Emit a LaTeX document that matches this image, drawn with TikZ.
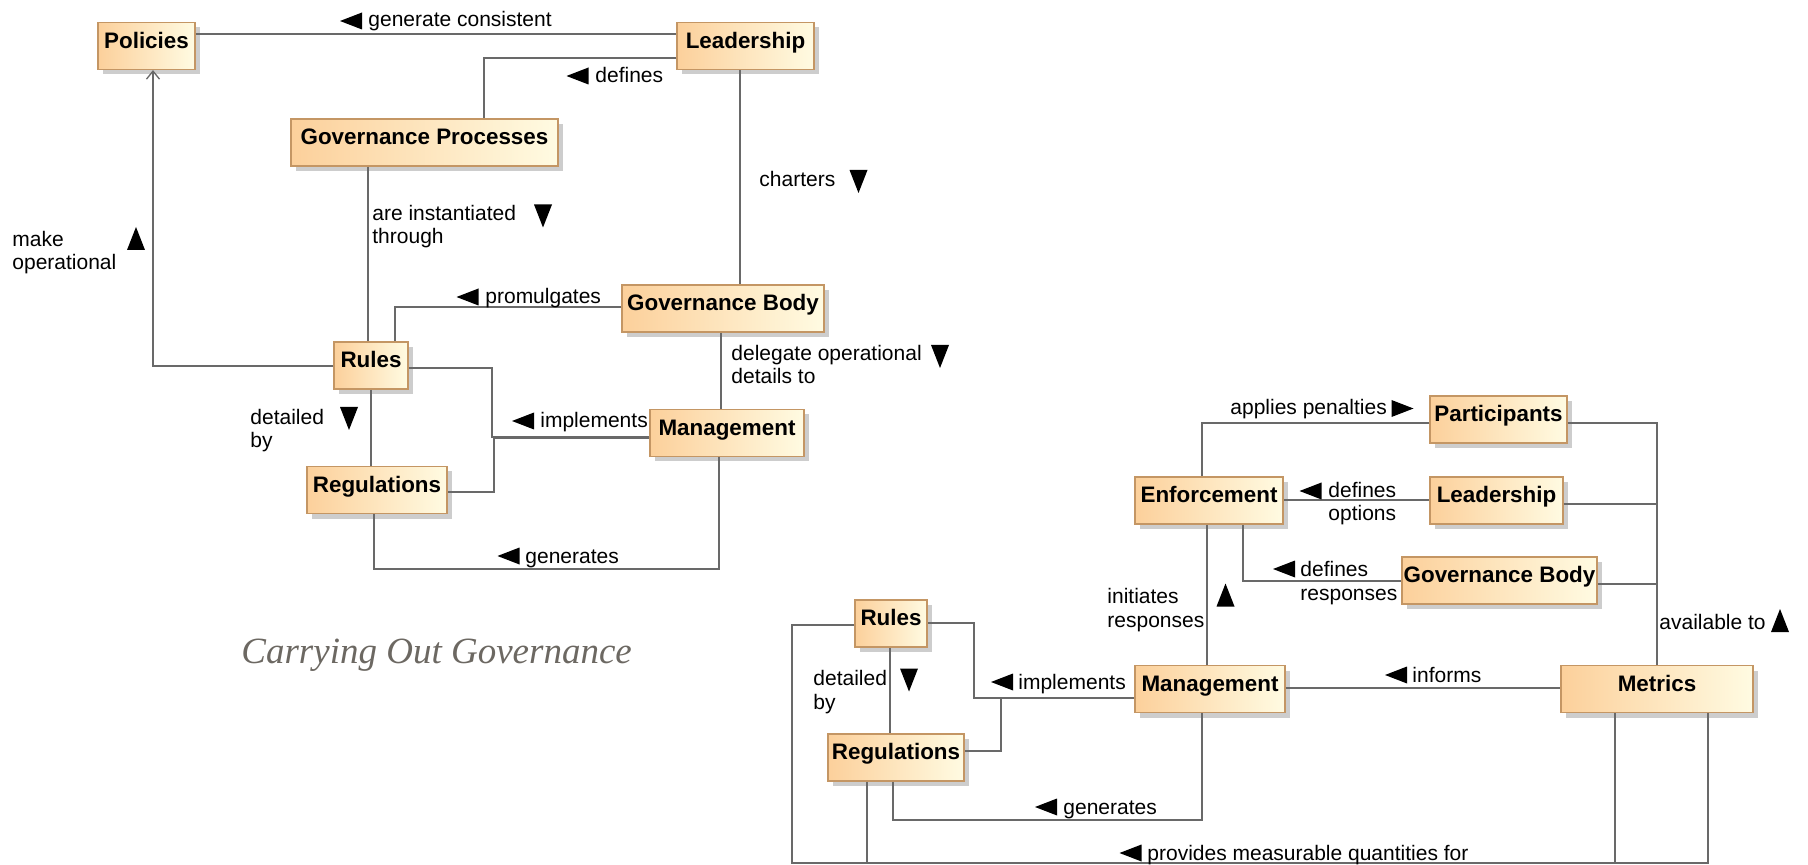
\documentclass[tikz,border=0pt]{standalone}
\usepackage{fontspec}
\setmainfont{Liberation Sans}
\newfontfamily\captionfont{Liberation Serif}
\usetikzlibrary{shadows,arrows.meta}

\definecolor{boxL}{RGB}{252,208,155}
\definecolor{boxR}{RGB}{255,251,226}
\definecolor{boxEdge}{RGB}{196,150,100}
\definecolor{wireGray}{RGB}{105,105,105}
\definecolor{captionGray}{RGB}{108,104,98}
\definecolor{shadowGray}{RGB}{205,205,205}

\tikzset{
  triL/.pic={\fill (-11,0) -- (11,-8.5) -- (11,8.5) -- cycle;},
  triR/.pic={\fill (11,0) -- (-11,-8.5) -- (-11,8.5) -- cycle;},
  triD/.pic={\fill (0,11.5) -- (-9,-11.5) -- (9,-11.5) -- cycle;},
  triU/.pic={\fill (0,-11.5) -- (-9,11.5) -- (9,11.5) -- cycle;},
}

\begin{document}
\begin{tikzpicture}[x=0.5pt,y=-0.5pt,
  cls/.style={draw=boxEdge, line width=0.6pt, left color=boxL, right color=boxR,
    inner xsep=0pt, inner ysep=0pt, text height=12.8pt, text depth=10.7pt,
    font=\fontsize{11.2}{13}\selectfont\bfseries,
    drop shadow={shadow xshift=2.5pt, shadow yshift=-2.5pt, fill=shadowGray, opacity=1}},
  conn/.style={draw=wireGray, line width=0.65pt},
  lbl/.style={inner sep=0pt, anchor=base west, align=left, font=\fontsize{10.5}{11.8}\selectfont},
]
\useasboundingbox (0,0) rectangle (1808,865);

% ---------- governance structure (left) ----------
\node[cls, minimum width=48.5pt]  (pol)    at (146.5,46)  {Policies};
\node[cls, minimum width=68.5pt]  (lead1)  at (745.5,46)  {Leadership};
\node[cls, minimum width=133.5pt] (gp)     at (424.5,142.5) {Governance Processes};
\node[cls, minimum width=101pt]   (gb1)    at (723,308.5) {Governance Body};
\node[cls, minimum width=37pt]    (rules1) at (371,365.5) {Rules};
\node[cls, minimum width=77pt]    (mgmt1)  at (727,433)   {Management};
\node[cls, minimum width=70pt]    (regs1)  at (377,490)   {Regulations};

\draw[conn] (pol.east |- 0,34) -- (lead1.west |- 0,34);
\draw[conn] (lead1.west |- 0,58) -| (gp.north -| 484,0);
\draw[conn] (gp.south -| 368,0) -- (rules1.north -| 368,0);
\draw[conn] (lead1.south -| 740,0) -- (gb1.north -| 740,0);
\draw[conn] (gb1.west |- 0,307) -| (rules1.north -| 395,0);
\draw[conn] (gb1.south -| 721,0) -- (mgmt1.north -| 721,0);
\draw[conn] (mgmt1.west |- 0,437) -- (492,437) |- (rules1.east |- 0,368);
\draw[conn] (mgmt1.west |- 0,438.5) -- (494,438.5) |- (regs1.east |- 0,492);
\draw[conn, -{Straight Barb[length=4pt,width=6.5pt]}] (rules1.west |- 0,366) -| (pol.south -| 153,0);
\draw[conn] (rules1.south -| 371,0) -- (regs1.north -| 371,0);
\draw[conn] (regs1.south -| 374,0) |- (719,569) -- (mgmt1.south -| 719,0);

% labels; a two-line label is placed by the baseline of its last line
\pic at (351,21) {triL};
\node[lbl] (t1) at (368,27) {generate consistent};
\pic at (577.5,76) {triL};
\node[lbl] (t2) at (595,83) {defines};
\node[lbl] (t3) at (759,187) {charters};
\pic at (858.5,181.5) {triD};
\node[lbl] (t4) at (372,244) {are instantiated\\through};
\pic at (543,216) {triD};
\node[lbl] (t5) at (12,270) {make\\operational};
\pic at (136,238.5) {triU};
\pic at (467.5,297) {triL};
\node[lbl] (t6) at (485,304) {promulgates};
\node[lbl] (t7) at (731,384) {delegate operational\\details to};
\pic at (940,356.5) {triD};
\pic at (523,421) {triL};
\node[lbl] (t8) at (540,428) {implements};
\node[lbl] (t9) at (250,448) {detailed\\by};
\pic at (349,418.5) {triD};
\pic at (508.5,556) {triL};
\node[lbl] (t10) at (525,563) {generates};

\node[font=\captionfont\itshape\fontsize{18.5}{20}\selectfont, text=captionGray,
  anchor=base west, inner sep=0pt] (caption) at (241,663) {Carrying Out Governance};

% ---------- enforcement and metrics (right) ----------
\node[cls, minimum width=68.5pt] (part)    at (1498.5,419.5) {Participants};
\node[cls, minimum width=74pt]   (enf)     at (1209,500.5)   {Enforcement};
\node[cls, minimum width=66.5pt] (lead2)   at (1496.5,500.5) {Leadership};
\node[cls, minimum width=97.5pt] (gb2)     at (1499.5,580.5) {Governance Body};
\node[cls, minimum width=36pt]   (rules2)  at (891,623.5)    {Rules};
\node[cls, minimum width=75pt]   (mgmt2)   at (1210,689)     {Management};
\node[cls, minimum width=96pt]   (metrics) at (1657,689)     {Metrics};
\node[cls, minimum width=68pt]   (regs2)   at (896,757.5)    {Regulations};

\draw[conn] (part.west |- 0,423) -| (enf.north -| 1202,0);
\draw[conn] (lead2.west |- 0,500) -- (enf.east |- 0,500);
\draw[conn] (gb2.west |- 0,581) -| (enf.south -| 1243,0);
\draw[conn] (enf.south -| 1207,0) -- (mgmt2.north -| 1207,0);
\draw[conn] (part.east |- 0,423) -| (metrics.north);
\draw[conn] (lead2.east |- 0,504) -- (metrics.north |- 0,504);
\draw[conn] (gb2.east |- 0,584) -- (metrics.north |- 0,584);
\draw[conn] (mgmt2.east |- 0,688) -- (metrics.west |- 0,688);
\draw[conn] (mgmt2.west |- 0,698) -- (974,698) |- (rules2.east |- 0,623);
\coordinate (jr) at (1001,698);
\draw[conn] (jr) |- (regs2.east |- 0,751);
\draw[conn] (rules2.south -| 890,0) -- (regs2.north -| 890,0);
\draw[conn] (regs2.south -| 893,0) |- (1202,820) -- (mgmt2.south -| 1202,0);
\draw[conn] (rules2.west |- 0,625) -| (792,863) -| (metrics.south -| 1708,0);
\draw[conn] (regs2.south -| 867,0) -- (867,863) -| (metrics.south -| 1615,0);

\node[lbl] (r1) at (1230,415) {applies penalties};
\pic at (1402.5,408.5) {triR};
\pic at (1310.5,491) {triL};
\node[lbl] (r2) at (1328,521) {defines\\options};
\pic at (1284,569) {triL};
\node[lbl] (r3) at (1300,600) {defines\\responses};
\node[lbl] (r4) at (1107,627) {initiates\\responses};
\pic at (1225.5,595) {triU};
\node[lbl] (r5) at (1659,629) {available to};
\pic at (1780,620.5) {triU};
\pic at (1396,675) {triL};
\node[lbl] (r6) at (1412,682) {informs};
\pic at (1002,682) {triL};
\node[lbl] (r7) at (1018,689) {implements};
\node[lbl] (r8) at (813,709) {detailed\\by};
\pic at (909,680) {triD};
\pic at (1046,807) {triL};
\node[lbl] (r9) at (1063,814) {generates};
\pic at (1130.5,853) {triL};
\node[lbl] (r10) at (1147,860) {provides measurable quantities for};
\end{tikzpicture}
\end{document}
